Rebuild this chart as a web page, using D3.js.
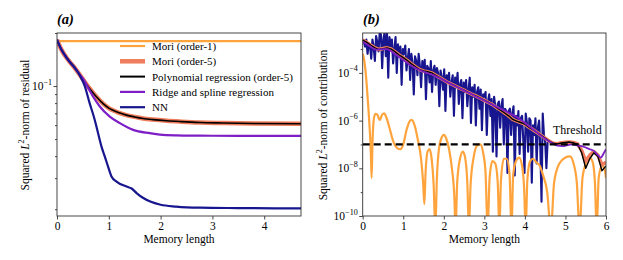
<!DOCTYPE html>
<html><head><meta charset="utf-8">
<script src="https://cdn.jsdelivr.net/npm/d3@7"></script>
<style>
body{margin:0;background:#fff}
svg{display:block}
svg text{font-family:"Liberation Serif","Times New Roman",Times,"DejaVu Serif","Noto Serif",serif !important;fill:#000}
</style>
</head><body>
<svg id="c" width="623" height="260"></svg>
<script>
// ---------------- Panel (a) data ----------------
const xLimA = [0, 4.71];
const yLimA = [0.0183, 0.2];
const xTicksA = [0, 1, 2, 3, 4];
const yMajorA = [0.1];
const yMinorA = [0.02, 0.03, 0.04, 0.05, 0.06, 0.07, 0.08, 0.09, 0.2];

const mori1AX = [0, 1, 2, 3, 4, 4.71];
const mori1AY = [0.18, 0.18, 0.18, 0.18, 0.18, 0.18];

const polyAX = [0, 0.085, 0.213, 0.342, 0.44, 0.55, 0.65, 0.76, 0.89, 1.0, 1.08, 1.2, 1.34, 1.5, 1.66, 1.85, 2.12, 2.4, 2.76, 3.2, 3.8, 4.71];
const polyAY = [0.183, 0.161, 0.141, 0.127, 0.116, 0.104, 0.095, 0.087, 0.0795, 0.075, 0.0728, 0.0705, 0.0684, 0.0668, 0.0655, 0.0645, 0.0635, 0.0628, 0.0621, 0.0617, 0.0613, 0.0611];
const mori5AY = polyAY;

const ridgeAX = [0, 0.085, 0.213, 0.342, 0.44, 0.503, 0.6, 0.696, 0.826, 1.019, 1.213, 1.47, 1.793, 1.986, 2.3, 2.76, 3.5, 4.71];
const ridgeAY = [0.183, 0.161, 0.141, 0.127, 0.116, 0.110, 0.098, 0.0872, 0.0765, 0.0671, 0.0616, 0.0564, 0.054, 0.053, 0.0525, 0.0523, 0.0521, 0.0521];

const nnAX = [0, 0.085, 0.213, 0.342, 0.44, 0.536, 0.63, 0.729, 0.793, 0.859, 0.923, 0.986, 1.052, 1.149, 1.342, 1.44, 1.536, 1.65, 1.8, 2.0, 2.3, 2.76, 3.5, 4.71];
const nnAY = [0.183, 0.161, 0.141, 0.127, 0.115, 0.100, 0.080, 0.0642, 0.054, 0.0453, 0.0398, 0.0349, 0.0307, 0.0287, 0.0269, 0.0262, 0.0247, 0.0233, 0.0221, 0.0212, 0.0207, 0.0204, 0.0203, 0.0202];

const legendLabels = ["Mori (order-1)", "Mori (order-5)", "Polynomial regression (order-5)", "Ridge and spline regression", "NN"];

// ---------------- Panel (b) data (values given as log10 exponents) ----------------
const xLimB = [0, 6];
const yLimBExp = [-10, -2.327];
const xTicksB = [0, 1, 2, 3, 4, 5, 6];
const yMajorBExp = [-10, -8, -6, -4];
const yMinorBExp = [-9, -7, -5, -3];
const thresholdExp = -7;

const nnBStep = 0.03;
const nnBExp = [
 -2.62,-2.7,-2.9,-2.6,-3.2,-2.75,-2.85,-3.4,-2.6,-2.9,
 -3.5,-2.45,-2.7,-3.1,-2.3,-2.4,-3.8,-2.6,-2.3,-3.3,
 -2.35,-4.2,-2.5,-2.9,-2.6,-3.6,-3.0,-2.5,-4.0,-2.8,
 -3.3,-2.9,-4.5,-3.0,-3.2,-2.85,-3.9,-3.4,-3.0,-4.3,
 -3.2,-3.6,-4.9,-3.3,-3.5,-4.1,-3.2,-3.7,-4.6,-3.5,
 -3.9,-3.45,-5.1,-3.7,-3.8,-4.4,-3.5,-4.8,-3.9,-3.7,
 -4.5,-3.8,-4.0,-5.4,-3.9,-4.2,-4.7,-3.85,-5.6,-4.1,
 -4.3,-4.0,-5.0,-4.4,-4.1,-5.8,-4.2,-4.6,-4.0,-5.3,
 -4.5,-4.3,-5.9,-4.4,-4.8,-4.3,-5.4,-4.7,-4.2,-6.1,
 -4.6,-5.0,-4.5,-6.2,-4.8,-4.6,-5.5,-4.7,-6.4,-4.9,
 -5.0,-4.8,-6.6,-5.2,-4.9,-5.8,-5.1,-7.3,-5.0,-5.4,
 -7.5,-5.3,-5.2,-6.3,-5.4,-5.1,-7.0,-5.5,-5.6,-8.2,
 -5.6,-5.5,-6.6,-5.7,-5.4,-8.3,-5.8,-6.2,-5.6,-7.4,
 -5.9,-5.8,-6.8,-8.2,-5.7,-6.1,-7.3,-5.9,-6.0,-8.6,
 -6.2,-6.6,-5.9,-7.8,-6.3,-6.0,-7.1,-9.4,-5.7,-6.6,
 -6.9,-8.0,-6.9
];

const mori1BX = [0,0.04,0.08,0.12,0.16,0.20,0.22,0.24,0.27,0.31,0.36,0.42,0.48,0.53,0.58,0.66,0.75,0.85,0.93,1.0,1.08,1.15,1.21,1.28,1.36,1.44,1.49,1.52,1.55,1.60,1.65,1.70,1.75,1.79,1.83,1.88,1.95,2.0,2.06,2.13,2.2,2.26,2.29,2.33,2.4,2.47,2.52,2.58,2.62,2.66,2.74,2.82,2.9,2.97,3.03,3.08,3.13,3.20,3.27,3.33,3.37,3.41,3.48,3.55,3.62,3.67,3.71,3.78,3.86,3.93,3.98,4.02,4.06,4.13,4.20,4.28,4.37,4.45,4.55,4.64,4.72,4.85,5.0,5.11,5.20,5.28,5.35,5.42,5.52,5.62,5.68,5.73,5.77,5.82,5.9,5.96,6.0];
const mori1BExp = [-3.2,-3.5,-4.1,-5.0,-6.0,-7.3,-8.4,-7.0,-6.0,-5.72,-5.75,-5.98,-5.75,-5.70,-5.85,-6.3,-6.85,-7.15,-7.2,-7.0,-6.4,-6.05,-5.97,-6.2,-6.8,-7.6,-8.6,-9.5,-8.2,-7.3,-7.2,-7.6,-8.7,-10.6,-8.4,-7.2,-6.7,-6.6,-6.75,-7.2,-8.0,-9.2,-10.6,-8.6,-7.6,-7.3,-7.5,-8.6,-10.6,-8.7,-7.5,-7.05,-7.0,-7.35,-8.2,-10.6,-8.4,-7.7,-7.8,-8.6,-10.6,-8.5,-7.6,-7.6,-8.2,-10.6,-8.3,-7.7,-7.55,-7.9,-8.8,-10.6,-8.5,-7.7,-7.6,-7.75,-7.9,-8.3,-9.0,-10.6,-8.6,-7.8,-7.55,-7.5,-7.8,-8.6,-10.6,-8.4,-7.75,-7.58,-7.8,-8.7,-10.6,-8.4,-7.9,-8.0,-8.4];

const polyBX = [0,0.1,0.2,0.3,0.4,0.5,0.6,0.7,0.8,0.9,1.0,1.1,1.2,1.3,1.4,1.5,1.6,1.7,1.8,1.9,2.0,2.1,2.2,2.3,2.4,2.5,2.6,2.7,2.8,2.9,3.0,3.1,3.2,3.3,3.4,3.5,3.6,3.7,3.8,3.9,4.0,4.1,4.2,4.3,4.4,4.5,4.6,4.7,4.8,4.9,5.0,5.1,5.2,5.3,5.4,5.5,5.6,5.7,5.8,5.9,6.0];
const polyBExp = [-2.62,-2.72,-2.84,-2.95,-3.02,-2.98,-2.95,-3.0,-3.12,-3.25,-3.36,-3.48,-3.62,-3.74,-3.86,-3.92,-3.95,-4.0,-4.1,-4.2,-4.3,-4.4,-4.48,-4.56,-4.65,-4.72,-4.82,-4.9,-4.97,-5.06,-5.15,-5.24,-5.33,-5.45,-5.56,-5.68,-5.8,-5.95,-6.02,-6.08,-6.15,-6.28,-6.38,-6.5,-6.62,-6.74,-6.86,-6.95,-6.98,-6.94,-6.92,-6.9,-6.93,-7.0,-7.35,-8.0,-7.6,-7.35,-7.5,-8.1,-7.9];
const mori5BExp = [-2.62,-2.72,-2.84,-2.95,-3.02,-2.98,-2.95,-3.0,-3.12,-3.25,-3.36,-3.48,-3.62,-3.74,-3.86,-3.92,-3.95,-4.0,-4.1,-4.2,-4.3,-4.4,-4.48,-4.56,-4.65,-4.72,-4.82,-4.9,-4.97,-5.06,-5.15,-5.24,-5.33,-5.45,-5.56,-5.68,-5.8,-5.95,-6.02,-6.08,-6.15,-6.28,-6.38,-6.5,-6.62,-6.74,-6.86,-6.95,-6.97,-6.93,-6.91,-6.9,-6.92,-6.98,-7.25,-7.7,-7.45,-7.3,-7.45,-7.85,-7.75];

const ridgeBX = [0,0.15,0.33,0.5,0.6,0.75,0.9,1.05,1.2,1.4,1.55,1.74,1.9,2.07,2.25,2.48,2.65,2.81,3.0,3.14,3.3,3.47,3.65,3.79,3.95,4.12,4.27,4.4,4.55,4.68,4.8,4.93,5.05,5.15,5.3,5.44,5.6,5.7,5.8,5.87,5.95,6.0];
const ridgeBExp = [-2.69,-2.85,-3.02,-3.0,-3.0,-3.15,-3.33,-3.52,-3.7,-3.88,-3.98,-4.09,-4.22,-4.37,-4.53,-4.72,-4.86,-5.0,-5.16,-5.28,-5.42,-5.56,-5.72,-5.84,-6.03,-6.26,-6.46,-6.64,-6.82,-6.95,-7.05,-7.07,-7.03,-7.0,-7.05,-7.09,-7.2,-7.27,-7.45,-7.55,-7.35,-7.2];

// ---------------- Styles ----------------
const C = {orange:"#ffa43d", salmon:"#ef7c5c", black:"#000000", purple:"#7d1ec6", navy:"#17168f"};
const FONT = '"Liberation Serif", "Times New Roman", Times, "DejaVu Serif", serif';

const svg = d3.select("#c");

function zip(xs, ys) { return xs.map((x, i) => [x, ys[i]]); }

function frame(g, x0, x1, y0, y1) {
  g.append("rect").attr("x", x0).attr("y", y0).attr("width", x1 - x0).attr("height", y1 - y0)
    .attr("fill", "none").attr("stroke", "#333").attr("stroke-width", 0.9);
}

function styleAxis(sel, fs) {
  sel.attr("font-family", FONT);
  sel.select(".domain").remove();
  sel.selectAll(".tick line").attr("stroke", "#333").attr("stroke-width", 0.9);
  sel.selectAll(".tick text").attr("font-size", fs).attr("font-family", FONT).attr("fill", "#000");
}

function powLabels(g, scale, values, xRight, fs) {
  values.forEach(v => {
    const t = g.append("text").attr("x", xRight).attr("y", scale(10 ** v) + 4).attr("text-anchor", "end").attr("font-size", fs);
    t.append("tspan").text("10");
    t.append("tspan").attr("dy", -5.5).attr("font-size", fs * 0.7).text("\u2212" + Math.abs(v));
  });
}

function ylabel(g, x, y, rest) {
  const t = g.append("text").attr("transform", `translate(${x},${y}) rotate(-90)`).attr("text-anchor", "middle").attr("font-size", 11.5);
  t.append("tspan").text("Squared ");
  t.append("tspan").attr("font-style", "italic").text("L");
  t.append("tspan").attr("dy", -5).attr("font-size", 8).text("2");
  t.append("tspan").attr("dy", 5).text(rest);
}

// ================= Panel (a) =================
const A = {x0: 57, x1: 301, y0: 33, y1: 216};
const xA = d3.scaleLinear().domain(xLimA).range([A.x0, A.x1]);
const yA = d3.scaleLog().domain(yLimA).range([A.y1, A.y0]);
const gA = svg.append("g");
svg.append("clipPath").attr("id", "clipA").append("rect").attr("x", A.x0).attr("y", A.y0).attr("width", A.x1 - A.x0).attr("height", A.y1 - A.y0);
const plotA = gA.append("g").attr("clip-path", "url(#clipA)");
const lineA = d3.line().x(d => xA(d[0])).y(d => yA(d[1])).curve(d3.curveMonotoneX);

const seriesA = [
  {d: zip(mori1AX, mori1AY), c: C.orange, w: 2.2},
  {d: zip(polyAX, mori5AY), c: C.salmon, w: 4.5},
  {d: zip(polyAX, polyAY), c: C.black, w: 1.6},
  {d: zip(ridgeAX, ridgeAY), c: C.purple, w: 2.2},
  {d: zip(nnAX, nnAY), c: C.navy, w: 2.2}
];
seriesA.forEach(s => plotA.append("path").attr("d", lineA(s.d)).attr("fill", "none").attr("stroke", s.c).attr("stroke-width", s.w).attr("stroke-linejoin", "round"));

const axA = gA.append("g").attr("transform", `translate(0,${A.y1})`).call(d3.axisBottom(xA).tickValues(xTicksA).tickSize(3.5).tickPadding(2).tickFormat(d3.format("d")));
styleAxis(axA, 11.5);
const ayA = gA.append("g").attr("transform", `translate(${A.x0},0)`).call(d3.axisLeft(yA).tickValues(yMajorA).tickSize(3.5).tickFormat(""));
styleAxis(ayA, 11.5);
const aymA = gA.append("g").attr("transform", `translate(${A.x0},0)`).call(d3.axisLeft(yA).tickValues(yMinorA).tickSize(2).tickFormat(""));
styleAxis(aymA, 11.5);
powLabels(gA, yA, [Math.log10(yMajorA[0])], A.x0 - 5, 11.5);
frame(gA, A.x0, A.x1, A.y0, A.y1);
gA.append("text").attr("x", (A.x0 + A.x1) / 2).attr("y", 243).attr("text-anchor", "middle").attr("font-size", 11.5).text("Memory length");
ylabel(gA, 29, 125, "-norm of residual");
gA.append("text").attr("x", 57).attr("y", 24).attr("font-size", 14.5).attr("font-weight", "bold").attr("font-style", "italic").text("(a)");

// legend
const leg = gA.append("g");
legendLabels.forEach((lab, i) => {
  const y = 46 + i * 15.3;
  const s = seriesA[i];
  leg.append("line").attr("x1", 120).attr("x2", 145).attr("y1", y).attr("y2", y).attr("stroke", s.c).attr("stroke-width", s.w === 1.6 ? 2 : s.w);
  leg.append("text").attr("x", 152).attr("y", y + 4).attr("font-size", 11).text(lab);
});

// ================= Panel (b) =================
const B = {x0: 362.7, x1: 606, y0: 33, y1: 216};
const xB = d3.scaleLinear().domain(xLimB).range([B.x0, B.x1]);
const yB = d3.scaleLog().domain(yLimBExp.map(e => 10 ** e)).range([B.y1, B.y0]);
const gB = svg.append("g");
svg.append("clipPath").attr("id", "clipB").append("rect").attr("x", B.x0).attr("y", B.y0).attr("width", B.x1 - B.x0).attr("height", B.y1 - B.y0);
const plotB = gB.append("g").attr("clip-path", "url(#clipB)");
const lineBlin = d3.line().x(d => xB(d[0])).y(d => yB(10 ** d[1]));
const lineBsm = d3.line().x(d => xB(d[0])).y(d => yB(10 ** d[1])).curve(d3.curveMonotoneX);

const nnBX = nnBExp.map((_, i) => i * nnBStep);
plotB.append("path").attr("d", lineBlin(zip(nnBX, nnBExp))).attr("fill", "none").attr("stroke", C.navy).attr("stroke-width", 2.1).attr("stroke-linejoin", "round");
plotB.append("path").attr("d", lineBsm(zip(mori1BX, mori1BExp))).attr("fill", "none").attr("stroke", C.orange).attr("stroke-width", 2.2);
plotB.append("path").attr("d", lineBlin(zip(polyBX, mori5BExp))).attr("fill", "none").attr("stroke", C.salmon).attr("stroke-width", 3.6).attr("stroke-linejoin", "round");
plotB.append("path").attr("d", lineBlin(zip(polyBX, polyBExp))).attr("fill", "none").attr("stroke", C.black).attr("stroke-width", 1.4).attr("stroke-linejoin", "round");
plotB.append("path").attr("d", lineBsm(zip(ridgeBX, ridgeBExp))).attr("fill", "none").attr("stroke", C.purple).attr("stroke-width", 1.8);
plotB.append("line").attr("x1", xB(xLimB[0])).attr("x2", xB(xLimB[1])).attr("y1", yB(10 ** thresholdExp)).attr("y2", yB(10 ** thresholdExp))
  .attr("stroke", "#000").attr("stroke-width", 2.2).attr("stroke-dasharray", "7,4");

const axB = gB.append("g").attr("transform", `translate(0,${B.y1})`).call(d3.axisBottom(xB).tickValues(xTicksB).tickSize(3.5).tickPadding(2).tickFormat(d3.format("d")));
styleAxis(axB, 11.5);
const ayB = gB.append("g").attr("transform", `translate(${B.x0},0)`).call(d3.axisLeft(yB).tickValues(yMajorBExp.map(e => 10 ** e)).tickSize(3.5).tickFormat(""));
styleAxis(ayB, 11.5);
const aymB = gB.append("g").attr("transform", `translate(${B.x0},0)`).call(d3.axisLeft(yB).tickValues(yMinorBExp.map(e => 10 ** e)).tickSize(2).tickFormat(""));
styleAxis(aymB, 11.5);
powLabels(gB, yB, yMajorBExp, B.x0 - 5, 11.5);
frame(gB, B.x0, B.x1, B.y0, B.y1);
gB.append("text").attr("x", (B.x0 + B.x1) / 2).attr("y", 243).attr("text-anchor", "middle").attr("font-size", 11.5).text("Memory length");
ylabel(gB, 327, 125, "-norm of contribution");
gB.append("text").attr("x", 363).attr("y", 24).attr("font-size", 14.5).attr("font-weight", "bold").attr("font-style", "italic").text("(b)");
gB.append("text").attr("x", 553).attr("y", 134).attr("font-size", 12).text("Threshold");
</script>
</body></html>
